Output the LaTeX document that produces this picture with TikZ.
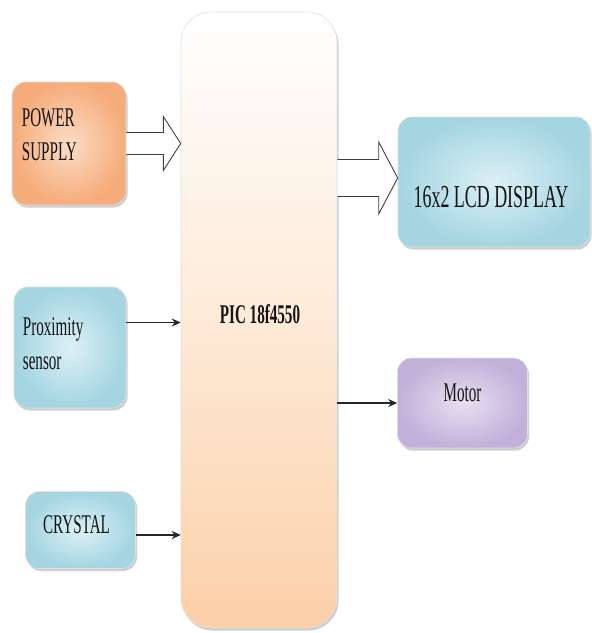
\documentclass[tikz,border=0pt]{standalone}
\usepackage{fontspec}
\setmainfont{Liberation Serif}[FakeStretch=0.56]
\usetikzlibrary{calc,arrows.meta,shadows}
\definecolor{orOut}{HTML}{F5AC7A}
\definecolor{orIn}{HTML}{FCDCC6}
\definecolor{blOut}{HTML}{A4D5E1}
\definecolor{blIn}{HTML}{DCF0F5}
\definecolor{puOut}{HTML}{C3B0DA}
\definecolor{puIn}{HTML}{E6DFF0}
\definecolor{picBot}{HTML}{FCD0A8}
\begin{document}
\begin{tikzpicture}[x=1pt,y=-1pt,
  box/.style={rectangle, rounded corners=14pt, draw=black!12, line width=0.6pt,
    drop shadow={shadow xshift=1.5pt,shadow yshift=-2.5pt,opacity=0.35,fill=black!55}},
  orbox/.style={box, inner color=orIn, outer color=orOut},
  blbox/.style={box, inner color=blIn, outer color=blOut},
  pubox/.style={box, inner color=puIn, outer color=puOut},
  lbl/.style={font=\fontsize{27}{34}\selectfont, text=black!92, inner sep=0pt, align=left},
  conn/.style={draw=black!85, line width=1.6pt, -{Stealth[length=9pt,width=8pt]}},
  hollow/.style={draw=black!75, line width=0.9pt, fill=white, line join=miter}
]
\useasboundingbox (0,0) rectangle (592,633);
\fill[white] (0,0) rectangle (592,633);

% main controller
\node[box, rounded corners=30pt, minimum width=156pt, minimum height=616pt,
  top color=white, bottom color=picBot, middle color=picBot!45] (pic) at (259,320) {};
\node[lbl, font=\bfseries\fontsize{27}{34}\selectfont] (picl) at ($(pic.center)+(1,-6)$) {PIC 18f4550};

% inputs
\node[orbox, minimum width=114pt, minimum height=123pt] (ps) at (69,143.5) {};
\node[lbl, anchor=west] (psl) at ($(ps.west)+(10,-9)$) {POWER\\SUPPLY};

\node[blbox, minimum width=112pt, minimum height=121pt] (prox) at (70,347.5) {};
\node[lbl, anchor=west] (proxl) at ($(prox.west)+(9,-4)$) {Proximity\\sensor};

\node[blbox, minimum width=110pt, minimum height=77pt] (cry) at (80.5,530) {};
\node[lbl] (cryl) at ($(cry.center)+(-4,-5)$) {CRYSTAL};

% outputs
\node[blbox, minimum width=192pt, minimum height=130pt] (lcd) at (494,182) {};
\node[lbl, font=\fontsize{32}{36}\selectfont] (lcdl) at ($(lcd.center)+(-3,15)$) {16x2 LCD DISPLAY};

\node[pubox, minimum width=130pt, minimum height=90pt] (mot) at (462.5,403) {};
\node[lbl] (motl) at ($(mot.center)+(0,-10)$) {Motor};

% hollow arrows
\path[hollow] ($(ps.east)+(0,-11)$) -- ($(ps.east)+(37,-11)$) -- ($(ps.east)+(37,-27)$)
  -- (pic.west |- ps.east) -- ($(ps.east)+(37,27)$) -- ($(ps.east)+(37,11)$)
  -- ($(ps.east)+(0,11)$);

\coordinate (lcdtip) at ($(lcd.west)+(0,-4)$);
\path[hollow] ($(pic.east |- lcdtip)+(0,-18.5)$) -- ($(lcdtip)+(-19,-18.5)$) -- ($(lcdtip)+(-19,-36)$)
  -- (lcdtip) -- ($(lcdtip)+(-19,36)$) -- ($(lcdtip)+(-19,18.5)$)
  -- ($(pic.east |- lcdtip)+(0,18.5)$);

% simple connectors
\coordinate (proxout) at ($(prox.east)+(0,-25)$);
\draw[conn] (proxout) -- (pic.west |- proxout);
\coordinate (cryout) at ($(cry.east)+(0,5)$);
\draw[conn] (cryout) -- (pic.west |- cryout);
\draw[conn] (pic.east |- mot.west) -- (mot.west);
\end{tikzpicture}
\end{document}
